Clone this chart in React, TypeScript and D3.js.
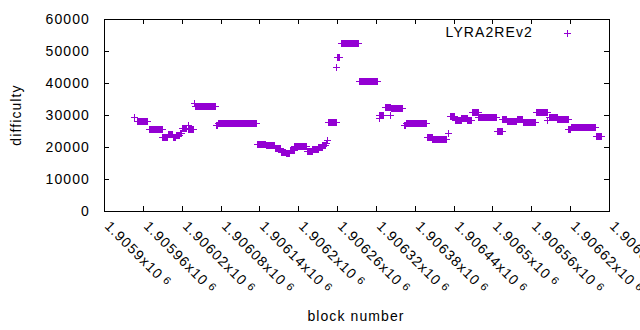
import React from 'react';
import * as d3 from 'd3';

// Run-length reading of the series: consecutive blocks sharing one difficulty
const runStart = [1905947, 1905951, 1905970, 1905990, 1905999, 1906006, 1906011, 1906017, 1906020, 1906029, 1906030, 1906039, 1906041, 1906073, 1906076, 1906136, 1906150, 1906164, 1906173, 1906181, 1906187, 1906194, 1906213, 1906222, 1906231, 1906237, 1906243, 1906244, 1906246, 1906259, 1906260, 1906266, 1906294, 1906324, 1906325, 1906334, 1906342, 1906344, 1906363, 1906366, 1906399, 1906407, 1906414, 1906431, 1906434, 1906442, 1906452, 1906461, 1906468, 1906478, 1906507, 1906515, 1906522, 1906538, 1906547, 1906567, 1906585, 1906587, 1906600, 1906617, 1906621, 1906660];
const runEnd = [1905947, 1905966, 1905989, 1905998, 1906005, 1906010, 1906016, 1906019, 1906027, 1906029, 1906037, 1906039, 1906072, 1906075, 1906135, 1906149, 1906163, 1906172, 1906180, 1906186, 1906193, 1906212, 1906221, 1906230, 1906236, 1906242, 1906243, 1906244, 1906258, 1906259, 1906263, 1906292, 1906322, 1906324, 1906331, 1906341, 1906342, 1906360, 1906365, 1906398, 1906406, 1906413, 1906429, 1906431, 1906441, 1906451, 1906460, 1906467, 1906477, 1906505, 1906514, 1906521, 1906537, 1906546, 1906565, 1906584, 1906585, 1906599, 1906616, 1906620, 1906658, 1906667];
const runDifficulty = [29500, 28000, 25500, 23200, 24000, 23000, 23700, 24500, 25800, 27000, 25700, 33850, 32800, 27000, 27400, 20850, 20500, 19600, 18500, 18000, 19000, 20200, 18700, 19400, 20000, 20600, 21300, 22200, 27700, 45100, 48200, 52400, 40700, 29000, 30000, 32500, 30000, 32300, 27000, 27400, 23000, 22600, 22500, 24300, 29800, 28300, 29000, 28300, 30800, 29300, 25000, 28800, 28200, 28650, 27900, 31000, 28400, 29500, 28650, 25600, 26200, 23350];

const xTicks = [1905900, 1905960, 1906020, 1906080, 1906140, 1906200, 1906260, 1906320, 1906380, 1906440, 1906500, 1906560, 1906620, 1906680];
const xTickMantissa = ['1.9059', '1.90596', '1.90602', '1.90608', '1.90614', '1.9062', '1.90626', '1.90632', '1.90638', '1.90644', '1.9065', '1.90656', '1.90662', '1.90668'];
const yTicks = [0, 10000, 20000, 30000, 40000, 50000, 60000];
const seriesName = 'LYRA2REv2';

const COLOR = '#9400d3';
const FONT = '"Liberation Sans", Arial, sans-serif';

export default function App() {
  const W = 640, H = 330;
  const left = 104, right = 609, top = 19, bottom = 211;
  const x = d3.scaleLinear().domain([1905900, 1906680]).range([left, right]);
  const y = d3.scaleLinear().domain([0, 60000]).range([bottom, top]);

  const points: [number, number][] = [];
  runStart.forEach((s, i) => {
    for (let b = s; b <= runEnd[i]; b++) points.push([b, runDifficulty[i]]);
  });

  const plus = (cx: number, cy: number) => {
    const X = Math.round(cx), Y = Math.round(cy);
    return `M${X - 3},${Y + 0.5}H${X + 4}M${X + 0.5},${Y - 3}V${Y + 4}`;
  };
  const markPath = points.map(([b, d]) => plus(x(b), y(d))).join('');

  let tickPath = '';
  yTicks.forEach((t) => {
    const Y = Math.round(y(t)) + 0.5;
    tickPath += `M${left},${Y}H${left + 5}M${right},${Y}H${right - 5}`;
  });
  xTicks.forEach((t) => {
    const X = Math.round(x(t)) + 0.5;
    tickPath += `M${X},${bottom}V${bottom - 5}M${X},${top}V${top + 5}`;
  });

  const textStyle = { fontFamily: FONT, fontSize: 14, letterSpacing: 1.1, fill: '#000' } as React.CSSProperties;

  return (
    <svg width={W} height={H} style={{ display: 'block', position: 'absolute', left: 0, top: 0, background: '#fff' }}>
      <rect x={0} y={0} width={W} height={H} fill="#fff" />
      <path d={tickPath} stroke="#000" strokeWidth={1} fill="none" />
      <rect x={left + 0.5} y={top + 0.5} width={right - left} height={bottom - top} fill="none" stroke="#000" strokeWidth={1} />
      {yTicks.map((t) => (
        <text key={t} x={90} y={Math.round(y(t)) + 5} textAnchor="end" style={textStyle}>{t}</text>
      ))}
      {xTicks.map((t, i) => {
        const X = Math.round(x(t));
        const Y = 227;
        return (
          <text key={t} x={X} y={Y} transform={`rotate(45 ${X} ${Y})`} style={textStyle}>
            {xTickMantissa[i]}x10<tspan dx={4} dy={-3} style={{ fontSize: 11 }}>6</tspan>
          </text>
        );
      })}
      <text x={21} y={115} transform="rotate(-90 21 115)" textAnchor="middle" style={textStyle}>difficulty</text>
      <text x={356} y={321} textAnchor="middle" style={textStyle}>block number</text>
      <text x={533} y={37} textAnchor="end" style={textStyle}>{seriesName}</text>
      <path d={plus(567, 33)} stroke={COLOR} strokeWidth={1} fill="none" />
      <path d={markPath} stroke={COLOR} strokeWidth={1} fill="none" shapeRendering="crispEdges" />
    </svg>
  );
}
